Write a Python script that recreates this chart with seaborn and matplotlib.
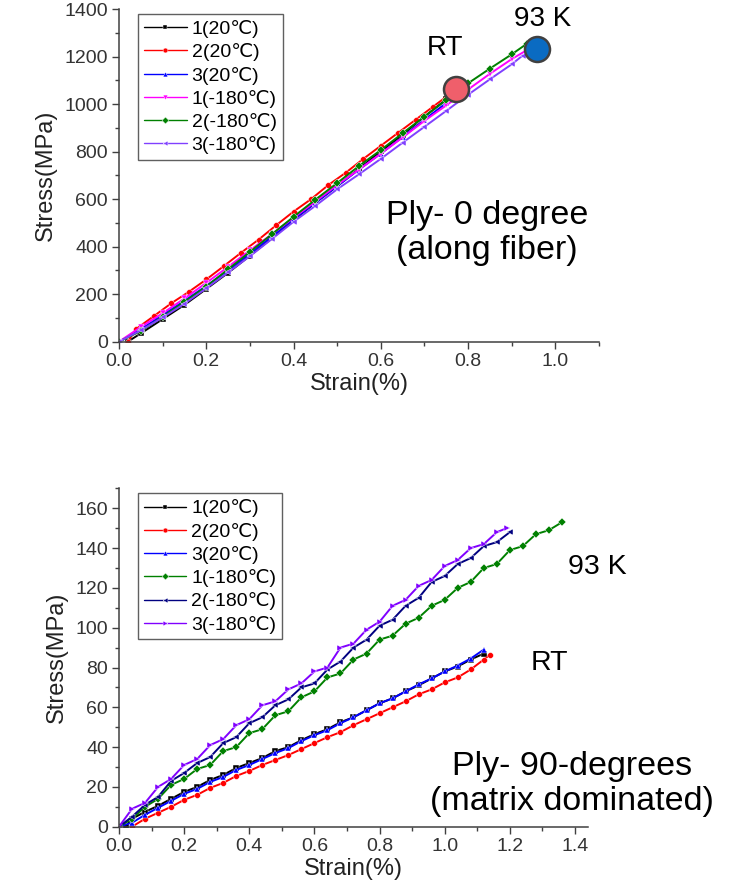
import numpy as np
import pandas as pd
import seaborn as sns
import matplotlib.pyplot as plt
from matplotlib.ticker import MultipleLocator

# ---- panel (a): ply 0 degree ----
a_names = ['1(20℃)', '2(20℃)', '3(20℃)', '1(-180℃)', '2(-180℃)', '3(-180℃)']
a_colors = ['#000000', '#ff0000', '#0000ff', '#ff00ff', '#008000', '#8040ff']
a_markers = ['s', 'o', '^', 'v', 'D', '<']

a_strain_1 = [0.02, 0.05, 0.1, 0.15, 0.2, 0.25, 0.3, 0.35, 0.4, 0.45, 0.5, 0.55, 0.6, 0.65, 0.7, 0.75, 0.775]
a_stress_1 = [0, 35, 95, 155, 222, 290, 362, 435, 512, 585, 655, 728, 802, 872, 948, 1020, 1058]
a_strain_2 = [0.02, 0.04, 0.08, 0.12, 0.16, 0.2, 0.24, 0.28, 0.32, 0.36, 0.4, 0.44, 0.48, 0.52, 0.56, 0.6, 0.64, 0.68, 0.72, 0.76]
a_stress_2 = [0, 55, 108, 162, 210, 262, 318, 375, 430, 490, 548, 600, 660, 712, 770, 825, 880, 935, 990, 1045]
a_strain_3 = [0, 0.05, 0.1, 0.15, 0.2, 0.25, 0.3, 0.35, 0.4, 0.45, 0.5, 0.55, 0.6, 0.65, 0.7, 0.75]
a_stress_3 = [0, 52, 112, 172, 235, 300, 370, 442, 515, 585, 655, 725, 792, 862, 935, 1005]
a_strain_4 = [0, 0.05, 0.1, 0.15, 0.2, 0.25, 0.3, 0.35, 0.4, 0.45, 0.5, 0.55, 0.6, 0.65, 0.7, 0.75, 0.8, 0.85, 0.9, 0.935]
a_stress_4 = [0, 62, 120, 182, 248, 315, 385, 452, 522, 590, 660, 725, 792, 860, 930, 995, 1062, 1128, 1190, 1228]
a_strain_5 = [0, 0.05, 0.1, 0.15, 0.2, 0.25, 0.3, 0.35, 0.4, 0.45, 0.5, 0.55, 0.6, 0.65, 0.7, 0.75, 0.8, 0.85, 0.9, 0.935]
a_stress_5 = [0, 45, 105, 168, 232, 305, 378, 452, 526, 598, 668, 740, 807, 878, 948, 1018, 1088, 1150, 1210, 1255]
a_strain_6 = [0, 0.05, 0.1, 0.15, 0.2, 0.25, 0.3, 0.35, 0.4, 0.45, 0.5, 0.55, 0.6, 0.65, 0.7, 0.75, 0.8, 0.85, 0.9, 0.925]
a_stress_6 = [0, 48, 102, 160, 225, 292, 360, 432, 505, 572, 642, 705, 770, 838, 905, 972, 1040, 1105, 1168, 1205]

a_rt_point = (0.773, 1063)
a_93k_point = (0.957, 1232)

# ---- panel (b): ply 90 degrees ----
b_names = ['1(20℃)', '2(20℃)', '3(20℃)', '1(-180℃)', '2(-180℃)', '3(-180℃)']
b_colors = ['#000000', '#ff0000', '#0000ff', '#008000', '#000080', '#8000ff']
b_markers = ['s', 'o', '^', 'D', '<', '>']

b_strain_1 = [0.02, 0.04, 0.08, 0.12, 0.16, 0.2, 0.24, 0.28, 0.32, 0.36, 0.4, 0.44, 0.48, 0.52, 0.56, 0.6,
              0.64, 0.68, 0.72, 0.76, 0.8, 0.84, 0.88, 0.92, 0.96, 1.0, 1.04, 1.08, 1.12]
b_stress_1 = [0, 4, 7.5, 10.5, 14, 17.5, 20, 23.5, 26, 29.5, 32, 34.5, 38, 40, 43.5, 46.5,
              49, 52.5, 55, 58.5, 62, 64.5, 68, 71, 74.5, 78, 80.5, 84, 87]
b_strain_2 = [0.04, 0.08, 0.12, 0.16, 0.2, 0.24, 0.28, 0.32, 0.36, 0.4, 0.44, 0.48, 0.52, 0.56, 0.6,
              0.64, 0.68, 0.72, 0.76, 0.8, 0.84, 0.88, 0.92, 0.96, 1.0, 1.04, 1.08, 1.12, 1.14]
b_stress_2 = [0, 4, 7, 10, 13.5, 16, 19.5, 22, 25.5, 28, 31, 33.5, 36, 39, 42,
              45, 47.5, 51, 54, 57, 60, 63, 66.5, 69, 72.5, 75, 79, 84, 86.5]
b_strain_3 = [0, 0.04, 0.08, 0.12, 0.16, 0.2, 0.24, 0.28, 0.32, 0.36, 0.4, 0.44, 0.48, 0.52, 0.56,
              0.6, 0.64, 0.68, 0.72, 0.76, 0.8, 0.84, 0.88, 0.92, 0.96, 1.0, 1.04, 1.08, 1.12]
b_stress_3 = [0, 2, 6, 9.5, 13, 16.5, 19, 22.5, 25, 28.5, 31, 34, 37, 39.5, 43,
              46, 48.5, 52, 55, 58.5, 62, 64.5, 68, 71.5, 74.5, 78, 81, 84.5, 89]
b_strain_4 = [0, 0.04, 0.08, 0.12, 0.16, 0.2, 0.24, 0.28, 0.32, 0.36, 0.4, 0.44, 0.48, 0.52, 0.56, 0.6,
              0.64, 0.68, 0.72, 0.76, 0.8, 0.84, 0.88, 0.92, 0.96, 1.0, 1.04, 1.08, 1.12, 1.16, 1.2,
              1.24, 1.28, 1.32, 1.36]
b_stress_4 = [0, 4, 10, 14, 21, 24, 29, 31, 38, 40, 47, 49, 56, 58, 65, 68,
              75, 77, 84, 87, 94, 96, 102, 105, 111, 114, 120, 123, 130, 132, 139,
              141, 147, 149, 153]
b_strain_5 = [0, 0.04, 0.08, 0.12, 0.16, 0.2, 0.24, 0.28, 0.32, 0.36, 0.4, 0.44, 0.48, 0.52, 0.56, 0.6,
              0.64, 0.68, 0.72, 0.76, 0.8, 0.84, 0.88, 0.92, 0.96, 1.0, 1.04, 1.08, 1.12, 1.16, 1.2]
b_stress_5 = [0, 5, 11, 15, 23, 27, 32, 35, 42, 45, 52, 55, 61, 64, 70, 72,
              79, 83, 90, 94, 101, 104, 111, 115, 123, 126, 132, 135, 141, 143, 148]
b_strain_6 = [0, 0.04, 0.08, 0.12, 0.16, 0.2, 0.24, 0.28, 0.32, 0.36, 0.4, 0.44, 0.48, 0.52, 0.56, 0.6,
              0.64, 0.68, 0.72, 0.76, 0.8, 0.84, 0.88, 0.92, 0.96, 1.0, 1.04, 1.08, 1.12, 1.16, 1.19]
b_stress_6 = [0, 9, 12, 20, 24, 31, 34, 41, 44, 51, 54, 61, 63, 69, 72, 78,
              80, 90, 92, 99, 103, 111, 114, 121, 124, 131, 134, 140, 142, 148, 150]


def long_table(names, strains, stresses):
    frames = []
    for n, x, y in zip(names, strains, stresses):
        frames.append(pd.DataFrame({'strain': x, 'stress': y, 'specimen': n}))
    return pd.concat(frames, ignore_index=True)


dfa = long_table(a_names, [a_strain_1, a_strain_2, a_strain_3, a_strain_4, a_strain_5, a_strain_6],
                 [a_stress_1, a_stress_2, a_stress_3, a_stress_4, a_stress_5, a_stress_6])
dfb = long_table(b_names, [b_strain_1, b_strain_2, b_strain_3, b_strain_4, b_strain_5, b_strain_6],
                 [b_stress_1, b_stress_2, b_stress_3, b_stress_4, b_stress_5, b_stress_6])

sns.set_theme(style='ticks')
plt.rcParams['font.family'] = ['Liberation Sans', 'DejaVu Sans']
plt.rcParams['axes.edgecolor'] = '#404040'
plt.rcParams['xtick.color'] = '#404040'
plt.rcParams['ytick.color'] = '#404040'
plt.rcParams['text.color'] = 'black'

fig = plt.figure(figsize=(7.38, 8.8), dpi=100)
ax1 = fig.add_axes([119 / 738, 1 - 341.7 / 880, 480 / 738, 332.5 / 880])
ax2 = fig.add_axes([119 / 738, 1 - 826.7 / 880, 469 / 738, 338.3 / 880])


def draw_panel(ax, df, names, colors, markers):
    sns.lineplot(data=df, x='strain', y='stress', hue='specimen', style='specimen',
                 hue_order=names, style_order=names,
                 palette=dict(zip(names, colors)), markers=dict(zip(names, markers)),
                 dashes=False, sort=False, estimator=None, ax=ax,
                 linewidth=1.4, markersize=4.2, markeredgewidth=0.3)
    ax.set_xlabel('Strain(%)', fontsize=17, color='#222222', labelpad=2)
    ax.set_ylabel('Stress(MPa)', fontsize=17, color='#222222', labelpad=5)
    ax.tick_params(which='major', length=5, width=1, labelsize=14, labelcolor='#333333', pad=3)
    ax.tick_params(which='minor', length=3, width=1)
    for s in ['left', 'bottom']:
        ax.spines[s].set_linewidth(1.1)
    sns.despine(ax=ax)
    leg = ax.legend(loc='upper left', bbox_to_anchor=(0.04, 0.985), fontsize=14,
                    frameon=True, fancybox=False, framealpha=1, edgecolor='#606060',
                    handlelength=2.2, handletextpad=0.25, labelspacing=0.27,
                    borderpad=0.3, borderaxespad=0)
    leg.get_frame().set_linewidth(1)
    for h in leg.get_lines():
        h.set_linewidth(1.0)
        h.set_markersize(3.5)


draw_panel(ax1, dfa, a_names, a_colors, a_markers)
ax1.set_xlim(0, 1.1)
ax1.set_ylim(0, 1400)
ax1.xaxis.set_major_locator(MultipleLocator(0.2))
ax1.xaxis.set_minor_locator(MultipleLocator(0.1))
ax1.yaxis.set_major_locator(MultipleLocator(200))
ax1.yaxis.set_minor_locator(MultipleLocator(100))

ax1.plot(*a_rt_point, 'o', ms=18, mfc='#ef5f6b', mec='#404040', mew=1.8, clip_on=False, zorder=5)
ax1.plot(*a_93k_point, 'o', ms=18, mfc='#0a6bc2', mec='#404040', mew=1.8, clip_on=False, zorder=5)
ax1.text(0.746, 1237, 'RT', fontsize=20, ha='center', va='center')
ax1.text(0.97, 1360, '93 K', fontsize=20, ha='center', va='center')
ax1.text(0.844, 458, 'Ply- 0 degree\n(along fiber)', fontsize=24.5, ha='center', va='center',
         linespacing=1.15)

draw_panel(ax2, dfb, b_names, b_colors, b_markers)
ax2.set_xlim(0, 1.44)
ax2.set_ylim(0, 170)
ax2.xaxis.set_major_locator(MultipleLocator(0.2))
ax2.xaxis.set_minor_locator(MultipleLocator(0.1))
ax2.yaxis.set_major_locator(MultipleLocator(20))
ax2.yaxis.set_minor_locator(MultipleLocator(10))

ax2.text(1.469, 130.7, '93 K', fontsize=20.5, ha='center', va='center', clip_on=False)
ax2.text(1.322, 82.4, 'RT', fontsize=20.5, ha='center', va='center', clip_on=False)
ax2.text(1.39, 21.5, 'Ply- 90-degrees\n(matrix dominated)', fontsize=24.5, ha='center',
         va='center', linespacing=1.15, clip_on=False)

fig.savefig('out.png', dpi=100)
